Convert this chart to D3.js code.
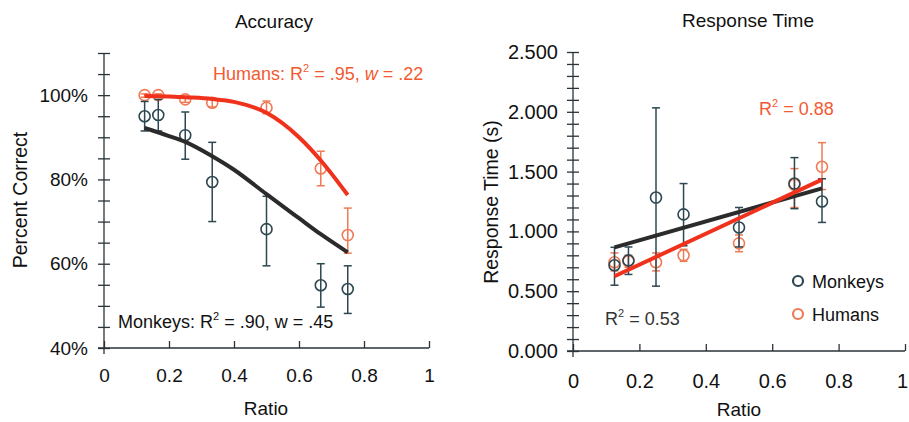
<!DOCTYPE html>
<html>
<head>
<meta charset="utf-8">
<script src="https://cdn.jsdelivr.net/npm/d3@7"></script>
<style>
  body { margin: 0; background: #fff; }
  svg { font-family: "Liberation Sans", Arial, Helvetica, sans-serif; }
</style>
</head>
<body>
<svg id="chart" width="909" height="422"></svg>
<script>
// ratios tested
var ratios = [0.125, 0.167, 0.25, 0.333, 0.5, 0.667, 0.75];

// accuracy (percent correct)
var accMonkey   = [95.0, 95.3, 90.5, 79.4, 68.2, 54.9, 54.0];
var accMonkeyLo = [91.5, 91.5, 84.8, 70.0, 59.5, 49.7, 48.2];
var accMonkeyHi = [98.5, 99.0, 96.0, 88.8, 76.0, 60.0, 59.5];
var accHuman    = [100.0, 100.0, 99.0, 98.2, 97.0, 82.6, 66.8];
var accHumanLo  = [99.5, 99.5, 98.3, 97.2, 95.6, 78.5, 62.5];
var accHumanHi  = [100.3, 100.3, 99.7, 99.2, 98.6, 86.7, 73.2];

// fitted curves
var fitX       = [0.125, 0.2, 0.25, 0.333, 0.4, 0.5, 0.6, 0.667, 0.75];
var fitMonkey  = [92.2, 90.3, 88.9, 85.5, 82.3, 76.5, 70.8, 67.0, 62.7];
var fitHuman   = [99.8, 99.7, 99.5, 99.1, 98.4, 95.8, 90.0, 84.5, 76.3];

// response time (s)
var rtMonkey   = [0.717, 0.758, 1.283, 1.142, 1.033, 1.40, 1.25];
var rtMonkeyLo = [0.55, 0.64, 0.542, 0.88, 0.87, 1.19, 1.075];
var rtMonkeyHi = [0.867, 0.87, 2.033, 1.40, 1.20, 1.617, 1.44];
var rtHuman    = [0.742, 0.75, 0.742, 0.80, 0.90, 1.39, 1.54];
var rtHumanLo  = [0.67, 0.70, 0.67, 0.75, 0.83, 1.20, 1.35];
var rtHumanHi  = [0.82, 0.80, 0.82, 0.85, 0.97, 1.525, 1.742];

// linear fits
var fitRtX      = [0.125, 0.75];
var fitRtMonkey = [0.867, 1.36];
var fitRtHuman  = [0.625, 1.433];

// tick labels
var xTicks = [0, 0.2, 0.4, 0.6, 0.8, 1];
var accTicks = [40, 60, 80, 100];
var rtTicks = [0, 0.5, 1.0, 1.5, 2.0, 2.5];

var axisColor = "#2a3338";
var monkeyColor = "#2d4751";
var monkeyLine = "#2b2b2b";
var humanColor = "#f07a55";
var humanLine = "#f0321c";
var humanText = "#f25a32";

var svg = d3.select("#chart");

function zip(xs, ys, lo, hi) {
    return xs.map(function(x, i) {
        return { x: x, y: ys[i], lo: lo ? lo[i] : null, hi: hi ? hi[i] : null };
    });
}

function drawPanel(opt) {
    var x = opt.x, y = opt.y;
    var g = svg.append("g");

    // y minor ticks crossing the axis
    var minor = g.append("g")
        .attr("transform", "translate(" + x(0) + ",0)")
        .call(d3.axisLeft(y).tickValues(opt.minorTicks).tickFormat("").tickSize(6).tickSizeOuter(0));
    minor.select(".domain").remove();
    minor.selectAll("line").attr("x1", 6).attr("stroke", axisColor).attr("stroke-width", 1.3);

    // y labels
    var yl = g.append("g")
        .attr("transform", "translate(" + x(0) + ",0)")
        .call(d3.axisLeft(y).tickValues(opt.yTicks).tickFormat(opt.yFormat).tickSize(0).tickPadding(opt.yPad));
    yl.select(".domain").remove();
    yl.selectAll("text").attr("font-size", opt.fs).attr("fill", "#111").attr("font-family", null);

    // x axis, ticks pointing up
    var xa = g.append("g")
        .attr("transform", "translate(0," + y(opt.yMin) + ")")
        .call(d3.axisBottom(x).tickValues(xTicks).tickFormat(d3.format("")).tickSize(-7).tickSizeOuter(0).tickPadding(opt.xPad));
    xa.select(".domain").remove();
    xa.selectAll("line").attr("stroke", axisColor).attr("stroke-width", 1.3);
    xa.selectAll("text").attr("font-size", opt.fs).attr("fill", "#111").attr("font-family", null);
    if (opt.lastShift) {
        xa.selectAll("text").filter(function(d) { return d === 1; }).attr("dx", opt.lastShift);
    }

    // axis lines
    g.append("line")
        .attr("x1", x(0) - 6).attr("x2", x(1))
        .attr("y1", y(opt.yMin)).attr("y2", y(opt.yMin))
        .attr("stroke", axisColor).attr("stroke-width", 1.3);
    g.append("line")
        .attr("x1", x(0)).attr("x2", x(0))
        .attr("y1", y(opt.yMin) + 6).attr("y2", y(opt.yMax))
        .attr("stroke", axisColor).attr("stroke-width", 1.3);

    // data: humans then monkeys
    [[opt.human, humanColor], [opt.monkey, monkeyColor]].forEach(function(s) {
        var pts = s[0], col = s[1];
        var eb = g.append("g").attr("stroke", col).attr("stroke-width", 1.5).attr("fill", "none");
        pts.forEach(function(p) {
            eb.append("line").attr("x1", x(p.x)).attr("x2", x(p.x)).attr("y1", y(p.lo)).attr("y2", y(p.hi));
            [p.lo, p.hi].forEach(function(v) {
                eb.append("line").attr("x1", x(p.x) - 4).attr("x2", x(p.x) + 4).attr("y1", y(v)).attr("y2", y(v));
            });
        });
        eb.selectAll("circle.pt").data(pts).enter().append("circle")
            .attr("class", "pt")
            .attr("cx", function(d) { return x(d.x); })
            .attr("cy", function(d) { return y(d.y); })
            .attr("r", 5.5)
            .attr("stroke-width", 1.6);
    });

    // fit lines
    var line = d3.line()
        .x(function(d) { return x(d.x); })
        .y(function(d) { return y(d.y); })
        .curve(d3.curveMonotoneX);
    g.append("path").datum(opt.fitM).attr("d", line)
        .attr("fill", "none").attr("stroke", monkeyLine).attr("stroke-width", 4);
    g.append("path").datum(opt.fitH).attr("d", line)
        .attr("fill", "none").attr("stroke", humanLine).attr("stroke-width", 4);

    // titles
    g.append("text").attr("x", opt.titleX).attr("y", opt.titleY)
        .attr("text-anchor", "middle").attr("font-size", 19).attr("fill", "#111").text(opt.title);
    g.append("text").attr("x", opt.xLabX).attr("y", opt.xLabY)
        .attr("text-anchor", "middle").attr("font-size", 19).attr("fill", "#111").text("Ratio");
    g.append("text")
        .attr("transform", "translate(" + opt.yLabX + "," + opt.yLabY + ") rotate(-90)")
        .attr("text-anchor", "middle").attr("font-size", 19.5).attr("fill", "#111").text(opt.yLabel);
    return g;
}

function rsq(g, xPos, yPos, col, parts) {
    var t = g.append("text").attr("x", xPos).attr("y", yPos).attr("font-size", 18).attr("fill", col);
    parts.forEach(function(p) {
        var ts = t.append("tspan").text(p.t);
        if (p.sup) ts.attr("font-size", 11).attr("dy", -8);
        if (p.down) ts.attr("dy", 8);
        if (p.it) ts.attr("font-style", "italic");
    });
}

// ---- Accuracy panel
var xA = d3.scaleLinear().domain([0, 1]).range([104, 429]);
var yA = d3.scaleLinear().domain([40, 110]).range([348, 53]);
var gA = drawPanel({
    x: xA, y: yA, yMin: 40, yMax: 110,
    minorTicks: d3.range(40, 111, 5), yTicks: accTicks,
    yFormat: function(d) { return d + "%"; },
    yPad: 16, xPad: 21, fs: 19,
    monkey: zip(ratios, accMonkey, accMonkeyLo, accMonkeyHi),
    human: zip(ratios, accHuman, accHumanLo, accHumanHi),
    fitM: zip(fitX, fitMonkey), fitH: zip(fitX, fitHuman),
    title: "Accuracy", titleX: 274, titleY: 28,
    xLabX: 266, xLabY: 415,
    yLabel: "Percent Correct", yLabX: 27, yLabY: 200
});
rsq(gA, 213, 80, humanText, [
    { t: "Humans: R" }, { t: "2", sup: true }, { t: " = .95, ", down: true },
    { t: "w", it: true }, { t: " = .22" }
]);
rsq(gA, 118, 328, "#111", [
    { t: "Monkeys: R" }, { t: "2", sup: true }, { t: " = .90, w = .45", down: true }
]);

// ---- Response time panel
var xR = d3.scaleLinear().domain([0, 1]).range([573, 905]);
var yR = d3.scaleLinear().domain([0, 2.5]).range([351, 52]);
var gR = drawPanel({
    x: xR, y: yR, yMin: 0, yMax: 2.5,
    minorTicks: d3.range(0, 26).map(function(i) { return i / 10; }), yTicks: rtTicks,
    yFormat: d3.format(".3f"),
    yPad: 15, xPad: 23, fs: 20, lastShift: -3,
    monkey: zip(ratios, rtMonkey, rtMonkeyLo, rtMonkeyHi),
    human: zip(ratios, rtHuman, rtHumanLo, rtHumanHi),
    fitM: zip(fitRtX, fitRtMonkey), fitH: zip(fitRtX, fitRtHuman),
    title: "Response Time", titleX: 748, titleY: 27,
    xLabX: 739, xLabY: 416,
    yLabel: "Response Time (s)", yLabX: 498, yLabY: 202
});
rsq(gR, 759, 115, humanText, [
    { t: "R" }, { t: "2", sup: true }, { t: " = 0.88", down: true }
]);
rsq(gR, 605, 325, "#333", [
    { t: "R" }, { t: "2", sup: true }, { t: " = 0.53", down: true }
]);

// legend
var legend = [["Monkeys", monkeyColor, 281], ["Humans", humanColor, 314]];
legend.forEach(function(l) {
    gR.append("circle").attr("cx", 798).attr("cy", l[2]).attr("r", 5)
        .attr("fill", "none").attr("stroke", l[1]).attr("stroke-width", 2.2);
    gR.append("text").attr("x", 812).attr("y", l[2] + 7).attr("font-size", 18)
        .attr("fill", "#111").text(l[0]);
});
</script>
</body>
</html>
